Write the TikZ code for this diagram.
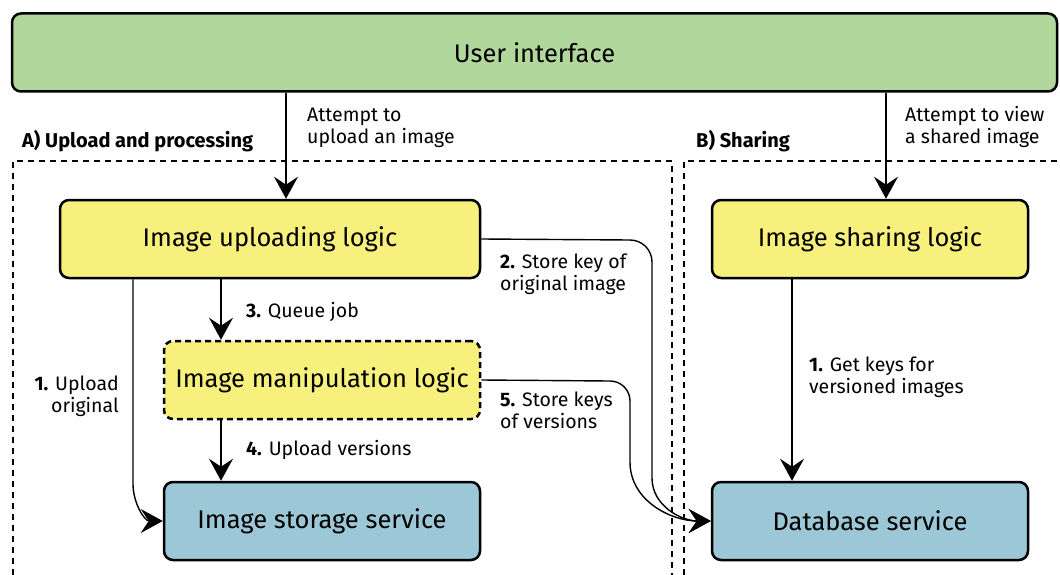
\documentclass[tikz,border=0pt]{standalone}
\usepackage{fontspec}
\setmainfont{Fira Sans}
\usetikzlibrary{arrows.meta}

\definecolor{uigreen}{RGB}{177,215,156}
\definecolor{logicyellow}{RGB}{247,240,124}
\definecolor{serviceblue}{RGB}{155,199,214}

\begin{document}
\begin{tikzpicture}[x=1pt, y=-1pt, >={Stealth[length=22pt, width=24pt, inset=8pt]},
	box/.style={draw, line width=2.5pt, rounded corners=9pt, minimum height=78pt,
		font=\fontsize{25.5}{30}\selectfont},
	flow/.style={->, line width=1.4pt},
	note/.style={anchor=base west, align=left, inner sep=0pt,
		font=\fontsize{19.5}{22}\selectfont},
	area/.style={line width=1.2pt, dash pattern=on 6pt off 5pt}]
	\useasboundingbox (0,0) rectangle (1060,575);

	% the two parts
	\draw[area] (13,575) |- (672,161) -- (672,575);
	\draw[area] (684,575) |- (1060,161);
	\node[note, font=\fontsize{20}{24}\selectfont] (partA) at (22,147) {\textbf{A) Upload and processing}};
	\node[note, font=\fontsize{20}{24}\selectfont] (partB) at (696,147) {\textbf{B) Sharing}};

	% boxes
	\node[box, fill=uigreen, minimum width=1045pt] (ui) at (534.5,52.5) {User interface};
	\node[box, fill=logicyellow, minimum width=420pt] (upload) at (270,239) {Image uploading logic};
	\node[box, fill=logicyellow, minimum width=316pt] (share) at (870,239) {Image sharing logic};
	\node[box, fill=logicyellow, minimum width=316pt, dash pattern=on 6pt off 4pt] (manip) at (322,380) {Image manipulation logic};
	\node[box, fill=serviceblue, minimum width=316pt] (storage) at (322,521) {Image storage service};
	\node[box, fill=serviceblue, minimum width=316pt] (db) at (870,521) {Database service};

	\coordinate (upx) at (286,0);
	\coordinate (shx) at (886,0);
	\coordinate (qx) at (221,0);
	\coordinate (origx) at (133,0);
	\coordinate (keyx) at (792,0);

	% incoming requests
	\draw[flow] (ui.south -| upx) -- (upload.north -| upx);
	\node[note] (req1) at (307,143) {Attempt to\\upload an image};
	\draw[flow] (ui.south -| shx) -- (share.north -| shx);
	\node[note] (req2) at (905,143) {Attempt to view\\a shared image};

	% upload and processing
	\draw[flow] (upload.south -| origx) -- (133,484) to[out=-90, in=180] (storage.west);
	\node[note, anchor=base east, align=right] (s1) at (119,412) {\textbf{1.} Upload\\original};
	\draw[flow] (upload.east) -- (630,240) to[out=0, in=90] (652,262) -- (652,478) to[out=-90, in=180] (db.west);
	\node[note] (s2) at (500,290) {\textbf{2.} Store key of\\original image};
	\draw[flow] (upload.south -| qx) -- (manip.north -| qx);
	\node[note] (s3) at (246,317) {\textbf{3.} Queue job};
	\draw[flow] (manip.south -| qx) -- (storage.north -| qx);
	\node[note] (s4) at (246,455) {\textbf{4.} Upload versions};
	\draw[flow] (manip.east) -- (610,381) to[out=0, in=90] (630,401) -- (630,462) to[out=-90, in=180] (db.west);
	\node[note] (s5) at (500,428) {\textbf{5.} Store keys\\of versions};

	% sharing
	\draw[flow] (share.south -| keyx) -- (db.north -| keyx);
	\node[note] (k1) at (809,393) {\textbf{1.} Get keys for\\versioned images};
\end{tikzpicture}
\end{document}
